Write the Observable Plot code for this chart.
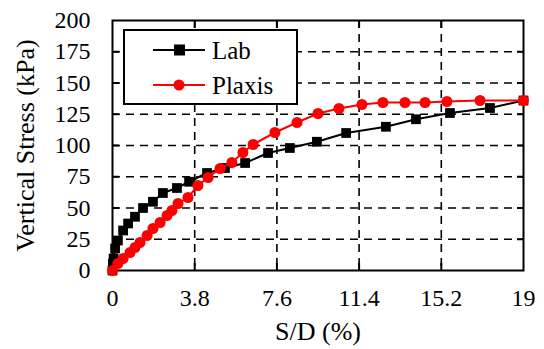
<!DOCTYPE html>
<html>
<head>
<meta charset="utf-8">
<script src="https://cdn.jsdelivr.net/npm/d3@7"></script>
<script src="https://cdn.jsdelivr.net/npm/@observablehq/plot@0.6"></script>
<style>
  html, body { margin: 0; padding: 0; background: #fff; font-family: "Times New Roman", "Liberation Serif", serif; }
  #wrap { position: relative; width: 544px; height: 349px; }
  #legend { position: absolute; left: 123px; top: 29px; }
  #wrap g[aria-label="x-axis label"], #wrap g[aria-label="y-axis label"] { font-size: 26px; }
</style>
</head>
<body>
<div id="wrap"></div>
<script>
// Data
const labX = [0, 0.02, 0.05, 0.12, 0.25, 0.49, 0.72, 1.04, 1.41, 1.87, 2.33, 2.98, 3.54, 4.37, 5.2, 6.13, 7.19, 8.2, 9.45, 10.8, 12.64, 14.03, 15.6, 17.45, 19];
const labY = [0, 5.6, 9.6, 17.6, 24, 32, 37.6, 43, 50, 55, 62, 66, 71, 78, 82, 86, 94, 98, 103, 110, 115, 121, 126, 130, 136];
const plaxisX = [0, 0.25, 0.49, 0.81, 1.04, 1.27, 1.6, 1.87, 2.2, 2.52, 2.75, 3.03, 3.49, 3.95, 4.42, 4.97, 5.52, 6.03, 6.5, 7.51, 8.53, 9.5, 10.47, 11.53, 12.5, 13.52, 14.45, 15.46, 16.99, 19];
const plaxisY = [0, 5.6, 9.6, 14.4, 18.4, 22.4, 28, 33.6, 38.4, 44, 48, 53.6, 58.4, 68, 74.4, 81.6, 86.4, 94.4, 100.8, 110.4, 118.4, 125.6, 129.6, 132.8, 134.4, 134.4, 134.4, 135.2, 136, 136];
const xTicks = [0, 3.8, 7.6, 11.4, 15.2, 19];
const yTicks = [0, 25, 50, 75, 100, 125, 150, 175, 200];
const seriesNames = ["Lab", "Plaxis"];
const seriesColors = ["black", "red"];
const xLabel = "S/D (%)";
const yLabel = "Vertical Stress (kPa)";

const lab = labX.map((x, i) => ({x, y: labY[i]}));
const plaxis = plaxisX.map((x, i) => ({x, y: plaxisY[i]}));
const innerX = xTicks.slice(1, -1);
const innerY = yTicks.slice(1, -1);
const FONT = "Times New Roman";

const chart = Plot.plot({
  width: 544,
  height: 349,
  marginLeft: 112,
  marginRight: 21,
  marginTop: 20,
  marginBottom: 79,
  style: {fontFamily: FONT, fontSize: "24px", background: "white"},
  x: {domain: [0, 19]},
  y: {domain: [0, 200]},
  marks: [
    Plot.gridX(innerX, {stroke: "black", strokeOpacity: 1, strokeWidth: 1.6, strokeDasharray: "8,6"}),
    Plot.gridY(innerY, {stroke: "black", strokeOpacity: 1, strokeWidth: 1.6, strokeDasharray: "8,6"}),
    // inward ticks on all four sides
    Plot.axisX({anchor: "bottom", ticks: innerX, tickSize: -7, tickFormat: () => "", strokeWidth: 2, label: null}),
    Plot.axisX({anchor: "top", ticks: innerX, tickSize: -7, tickFormat: () => "", strokeWidth: 2, label: null}),
    Plot.axisY({anchor: "left", ticks: innerY, tickSize: -7, tickFormat: () => "", strokeWidth: 2, label: null}),
    Plot.axisY({anchor: "right", ticks: innerY, tickSize: -7, tickFormat: () => "", strokeWidth: 2, label: null}),
    // labelled axes
    Plot.axisX({anchor: "bottom", ticks: xTicks, tickSize: 0, tickPadding: 18, tickFormat: d => String(d),
      fontFamily: FONT, label: xLabel, labelAnchor: "center", labelArrow: "none", labelOffset: 69}),
    Plot.axisY({anchor: "left", ticks: yTicks, tickSize: 0, tickPadding: 22, tickFormat: d => String(d),
      fontFamily: FONT, label: yLabel, labelAnchor: "center", labelArrow: "none", labelOffset: 97}),
    Plot.frame({stroke: "black", strokeWidth: 2}),
    Plot.line(lab, {x: "x", y: "y", stroke: seriesColors[0], strokeWidth: 2}),
    Plot.dot(lab, {x: "x", y: "y", symbol: "square", r: 5.5, fill: seriesColors[0]}),
    Plot.line(plaxis, {x: "x", y: "y", stroke: seriesColors[1], strokeWidth: 2}),
    Plot.dot(plaxis, {x: "x", y: "y", symbol: "circle", r: 5.5, fill: seriesColors[1]})
  ]
});
document.getElementById("wrap").appendChild(chart);

// Legend
const lg = d3.select("#wrap").append("svg").attr("id", "legend")
  .attr("width", 176).attr("height", 77);
lg.append("rect").attr("x", 1).attr("y", 1).attr("width", 173).attr("height", 74)
  .attr("fill", "white").attr("stroke", "black").attr("stroke-width", 2);
seriesNames.forEach((name, i) => {
  const cy = 21 + i * 35;
  lg.append("line").attr("x1", 30).attr("x2", 82).attr("y1", cy).attr("y2", cy)
    .attr("stroke", seriesColors[i]).attr("stroke-width", 2);
  if (i === 0) {
    lg.append("rect").attr("x", 51).attr("y", cy - 5.5).attr("width", 11).attr("height", 11).attr("fill", seriesColors[i]);
  } else {
    lg.append("circle").attr("cx", 56).attr("cy", cy).attr("r", 5.5).attr("fill", seriesColors[i]);
  }
  lg.append("text").attr("x", 89).attr("y", cy).attr("dy", "0.35em")
    .attr("font-family", FONT).attr("font-size", "25px").text(name);
});
</script>
</body>
</html>
